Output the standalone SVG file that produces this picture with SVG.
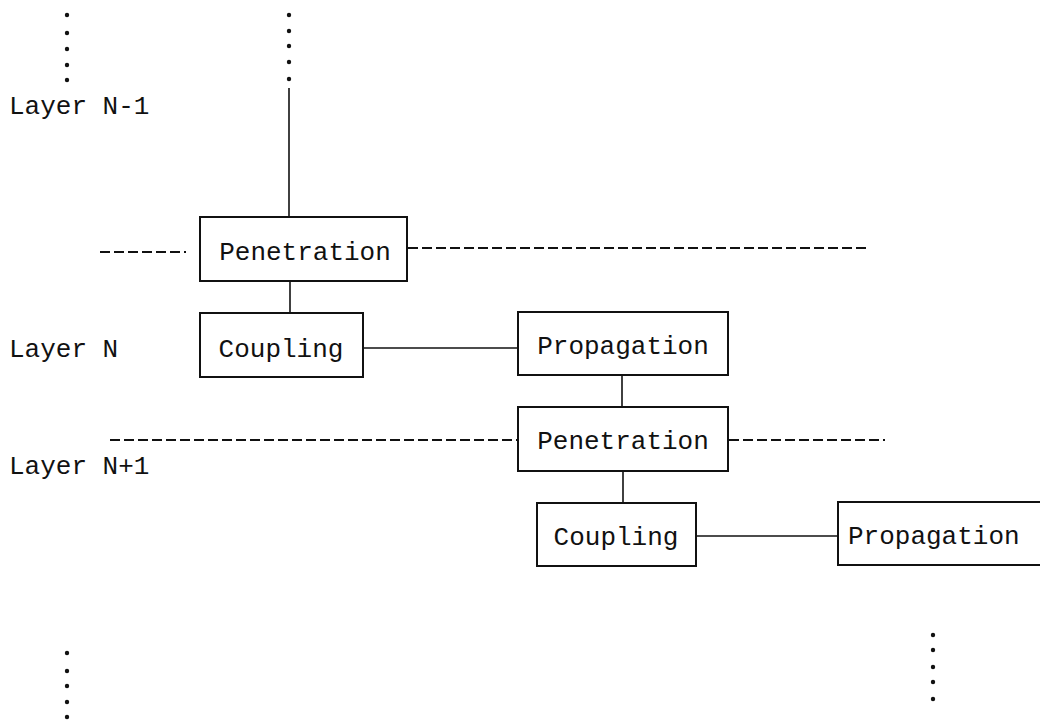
<svg xmlns="http://www.w3.org/2000/svg" width="1040" height="722" viewBox="0 0 1040 722">
<style>
.box{fill:none;stroke:#111;stroke-width:2}
.lbl{font-family:"Liberation Mono","DejaVu Sans Mono",monospace;font-size:26px;fill:#111}
.mid{text-anchor:middle}
.ln{stroke:#111;stroke-width:1.6;fill:none}
.dash{stroke:#111;stroke-width:2;stroke-dasharray:10 4;fill:none}
.dot{fill:#111}
</style>
<rect width="1040" height="722" fill="#fff"/>
<g id="dots">
<circle class="dot" cx="67" cy="15" r="2.2"/><circle class="dot" cx="67" cy="33" r="2.2"/><circle class="dot" cx="67" cy="49" r="2.2"/><circle class="dot" cx="67" cy="65" r="2.2"/><circle class="dot" cx="67" cy="80" r="2.2"/>
<circle class="dot" cx="289" cy="15" r="2.2"/><circle class="dot" cx="289" cy="31" r="2.2"/><circle class="dot" cx="289" cy="46" r="2.2"/><circle class="dot" cx="289" cy="62" r="2.2"/><circle class="dot" cx="289" cy="79" r="2.2"/>
<circle class="dot" cx="67" cy="653" r="2.2"/><circle class="dot" cx="67" cy="671" r="2.2"/><circle class="dot" cx="67" cy="686" r="2.2"/><circle class="dot" cx="67" cy="702" r="2.2"/><circle class="dot" cx="67" cy="717" r="2.2"/>
<circle class="dot" cx="933" cy="635" r="2.2"/><circle class="dot" cx="933" cy="650" r="2.2"/><circle class="dot" cx="933" cy="667" r="2.2"/><circle class="dot" cx="933" cy="682" r="2.2"/><circle class="dot" cx="933" cy="699" r="2.2"/>
</g>
<g id="labels">
<text class="lbl" x="9" y="114">Layer N-1</text>
<text class="lbl" x="9" y="357">Layer N</text>
<text class="lbl" x="9" y="474">Layer N+1</text>
</g>
<g id="connectors">
<line class="ln" x1="289" y1="88" x2="289" y2="217"/>
<line class="dash" x1="100" y1="252" x2="186" y2="252"/>
<line class="dash" x1="408" y1="248" x2="870" y2="248"/>
<line class="ln" x1="290" y1="281" x2="290" y2="313"/>
<line class="ln" x1="363" y1="348" x2="518" y2="348"/>
<line class="ln" x1="622" y1="375" x2="622" y2="407"/>
<line class="dash" x1="110" y1="440" x2="518" y2="440"/>
<line class="dash" x1="729" y1="440" x2="885" y2="440"/>
<line class="ln" x1="623" y1="471" x2="623" y2="503"/>
<line class="ln" x1="696" y1="536" x2="838" y2="536"/>
</g>
<g id="penetration1"><rect class="box" x="200" y="217" width="207" height="64"/><text class="lbl mid" x="305" y="260">Penetration</text></g>
<g id="coupling1"><rect class="box" x="200" y="313" width="163" height="64"/><text class="lbl mid" x="281" y="357">Coupling</text></g>
<g id="propagation1"><rect class="box" x="518" y="312" width="210" height="63"/><text class="lbl mid" x="623" y="354">Propagation</text></g>
<g id="penetration2"><rect class="box" x="518" y="407" width="210" height="64"/><text class="lbl mid" x="623" y="449">Penetration</text></g>
<g id="coupling2"><rect class="box" x="537" y="503" width="159" height="63"/><text class="lbl mid" x="616" y="545">Coupling</text></g>
<g id="propagation2"><rect class="box" x="838" y="502" width="210" height="63"/><text class="lbl" x="848" y="544">Propagation</text></g>
</svg>
